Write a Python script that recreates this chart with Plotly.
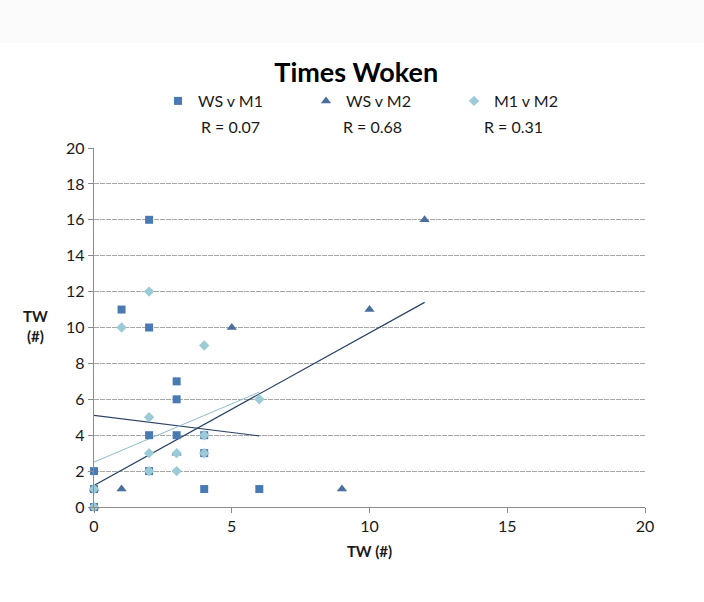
import plotly.graph_objects as go

# ---- data ----
ws_m1_x = [0, 0, 0, 1, 2, 2, 2, 2, 3, 3, 3, 4, 4, 4, 6]
ws_m1_y = [0, 1, 2, 11, 16, 10, 4, 2, 7, 6, 4, 4, 3, 1, 1]

ws_m2_x = [0, 0, 1, 3, 5, 9, 10, 12]
ws_m2_y = [0, 1, 1, 3, 10, 1, 11, 16]

m1_m2_x = [0, 0, 1, 2, 2, 2, 2, 3, 3, 4, 4, 4, 6]
m1_m2_y = [0, 1, 10, 12, 5, 3, 2, 3, 2, 9, 4, 3, 6]

series_names = ["WS v M1", "WS v M2", "M1 v M2"]
r_labels = ["R = 0.07", "R = 0.68", "R = 0.31"]
# linear trend lines (intercept, slope)
trend_intercepts = [5.1, 1.2, 2.5]
trend_slopes = [-0.19, 0.85, 0.65]

x_ticks = [0, 5, 10, 15, 20]
y_ticks = [0, 2, 4, 6, 8, 10, 12, 14, 16, 18, 20]

FONT = "Lato, Calibri, Carlito, sans-serif"
col_sq = "#4a7ab4"
col_tri = "#4a6f9c"
col_dia = "#9ccad6"
line_cols = ["#2b4466", "#2b4466", "#8fbccb"]
line_widths = [1.2, 1.2, 1.0]

fig = go.Figure()

series = [(ws_m1_x, ws_m1_y, "square", col_sq, 8),
          (ws_m2_x, ws_m2_y, "triangle-up", col_tri, 9),
          (m1_m2_x, m1_m2_y, "diamond", col_dia, 8)]

# trend lines
for i, (xs, ys, sym, col, sz) in enumerate(series):
    x0, x1 = min(xs), max(xs)
    fig.add_trace(go.Scatter(
        x=[x0, x1],
        y=[trend_intercepts[i] + trend_slopes[i] * x0, trend_intercepts[i] + trend_slopes[i] * x1],
        mode="lines", line=dict(color=line_cols[i], width=line_widths[i]),
        showlegend=False, hoverinfo="skip", cliponaxis=False))

for i, (xs, ys, sym, col, sz) in enumerate(series):
    fig.add_trace(go.Scatter(
        x=xs, y=ys, mode="markers", name=series_names[i],
        marker=dict(symbol=sym, color=col, size=sz, line=dict(width=0)),
        cliponaxis=False))

# R annotations
r_x = [0.247, 0.505, 0.761]
for i, t in enumerate(r_labels):
    fig.add_annotation(text=t, x=r_x[i], y=1.0585, xref="paper", yref="paper",
                       showarrow=False, font=dict(size=16, color="#1a1a1a", family=FONT),
                       xanchor="center", yanchor="middle")

# Y axis title (horizontal)
fig.add_annotation(text="<b>TW<br>(#)</b>", x=-0.107, y=0.504, xref="paper", yref="paper",
                   showarrow=False, font=dict(size=15, color="#1a1a1a", family=FONT),
                   xanchor="center", yanchor="middle")

# faint top band
fig.add_shape(type="rect", xref="paper", yref="paper",
              x0=-0.1706, x1=1.107, y0=1.2925, y1=1.413,
              fillcolor="#fbfbfb", line=dict(width=0), layer="below")

fig.update_layout(
    width=704, height=602,
    margin=dict(l=94, r=59, t=148, b=95, autoexpand=False),
    paper_bgcolor="white", plot_bgcolor="white",
    font=dict(family=FONT, color="#1a1a1a"),
    title=dict(text="<b>Times Woken</b>", x=0.506, xref="container", xanchor="center",
               y=1 - 73 / 602, yref="container", yanchor="middle",
               font=dict(size=27, family=FONT, color="#000000")),
    legend=dict(orientation="h", xref="container", yref="container",
                x=158 / 704, xanchor="left", y=1 - 84 / 602, yanchor="top",
                entrywidth=103, entrywidthmode="pixels",
                font=dict(size=16, family=FONT, color="#1a1a1a"),
                itemwidth=30, bgcolor="rgba(0,0,0,0)"),
    xaxis=dict(range=[0, 20], tickvals=x_ticks, showgrid=False, zeroline=False,
               automargin=False,
               showline=True, linecolor="#8c8c8c", linewidth=1.3,
               ticks="outside", ticklen=5, tickcolor="#8c8c8c",
               tickfont=dict(size=16, family=FONT, color="#1a1a1a"),
               title=dict(text="<b>TW (#)</b>", font=dict(size=15, family=FONT, color="#1a1a1a"),
                          standoff=12)),
    yaxis=dict(range=[0, 20], tickvals=y_ticks, showgrid=True, gridcolor="#a6a6a6",
               griddash="5px,1px", gridwidth=1, zeroline=False, automargin=False,
               showline=True, linecolor="#8c8c8c", linewidth=1.3,
               ticks="outside", ticklen=5, tickcolor="#8c8c8c",
               tickfont=dict(size=16, family=FONT, color="#1a1a1a")),
)

fig.write_html("out.html", config={"displayModeBar": False},
               post_script="document.body.style.margin='0';")
